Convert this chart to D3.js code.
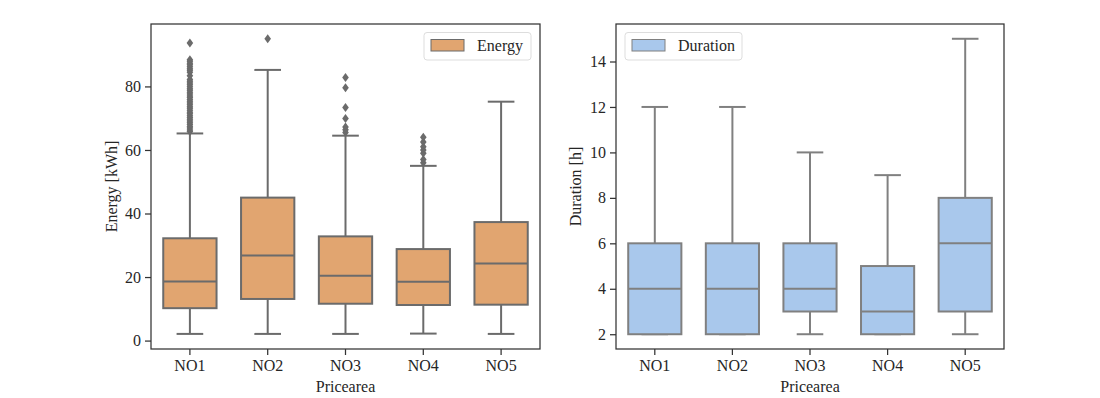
<!DOCTYPE html>
<html><head><meta charset="utf-8">
<script src="https://cdn.jsdelivr.net/npm/d3@7"></script>
<style>body{margin:0;background:#fff}svg{display:block;font-family:"Liberation Serif","Times New Roman",serif}</style>
</head><body><svg id="c" width="1100" height="398"></svg>
<script>
const categories = ["NO1","NO2","NO3","NO4","NO5"];
// Energy [kWh]
const energyLow    = [2.1, 2.1, 2.1, 2.2, 2.1];
const energyQ1     = [10.2, 13.1, 11.6, 11.2, 11.3];
const energyMedian = [18.6, 26.8, 20.4, 18.5, 24.3];
const energyQ3     = [32.2, 45.0, 32.8, 28.8, 37.3];
const energyHigh   = [65.2, 85.2, 64.5, 55.0, 75.2];
const energyOutliers = [
  [65.8,66.3,66.9,67.4,68.0,68.6,69.1,69.7,70.2,70.8,71.4,71.9,72.5,73.1,73.6,74.2,74.8,75.3,75.9,76.5,77.0,77.6,78.2,78.8,79.3,79.9,80.5,81.1,81.6,82.2,83.4,84.5,85.1,85.6,86.2,86.8,87.3,87.9,88.4,93.7],
  [95.0],
  [65.5,66.4,67.2,69.9,73.4,79.6,82.8],
  [56.0,57.0,59.0,60.0,61.0,62.5,64.0],
  []
];
const energyTicks = [0,20,40,60,80];
// Duration [h]
const durLow    = [2, 2, 2, 2, 2];
const durQ1     = [2, 2, 3, 2, 3];
const durMedian = [4, 4, 4, 3, 6];
const durQ3     = [6, 6, 6, 5, 8];
const durHigh   = [12, 12, 10, 9, 15];
const durOutliers = [[],[],[],[],[]];
const durTicks = [2,4,6,8,10,12,14];

const svg = d3.select("#c");
const plotTop = 24, plotBottom = 349;

function panel(o){
  const g = svg.append("g");
  const x = d3.scaleBand().domain(categories).range([o.x0, o.x1]).padding(0);
  const y = d3.scaleLinear().domain(o.domain).range([plotBottom, plotTop]);
  const bw = x.bandwidth()*0.685;
  categories.forEach((c,i)=>{
    const cx = x(c) + x.bandwidth()/2;
    g.append("line").attr("x1",cx).attr("x2",cx).attr("y1",y(o.q3[i])).attr("y2",y(o.high[i])).attr("stroke",o.line).attr("stroke-width",2);
    g.append("line").attr("x1",cx).attr("x2",cx).attr("y1",y(o.q1[i])).attr("y2",y(o.low[i])).attr("stroke",o.line).attr("stroke-width",2);
    g.append("line").attr("x1",cx-bw/4).attr("x2",cx+bw/4).attr("y1",y(o.high[i])).attr("y2",y(o.high[i])).attr("stroke",o.line).attr("stroke-width",2);
    g.append("line").attr("x1",cx-bw/4).attr("x2",cx+bw/4).attr("y1",y(o.low[i])).attr("y2",y(o.low[i])).attr("stroke",o.line).attr("stroke-width",2);
    g.append("rect").attr("x",cx-bw/2).attr("width",bw).attr("y",y(o.q3[i])).attr("height",y(o.q1[i])-y(o.q3[i]))
      .attr("fill",o.fill).attr("stroke",o.line).attr("stroke-width",2);
    g.append("line").attr("x1",cx-bw/2).attr("x2",cx+bw/2).attr("y1",y(o.med[i])).attr("y2",y(o.med[i])).attr("stroke",o.line).attr("stroke-width",2);
    o.out[i].forEach(v=>{
      const yy = y(v);
      g.append("path").attr("d",`M${cx},${yy-4.5}L${cx+3.3},${yy}L${cx},${yy+4.5}L${cx-3.3},${yy}Z`).attr("fill",o.line);
    });
  });
  g.append("rect").attr("x",o.x0).attr("y",plotTop).attr("width",o.x1-o.x0).attr("height",plotBottom-plotTop)
    .attr("fill","none").attr("stroke","#333").attr("stroke-width",1.25);
  const ya = d3.axisLeft(y).tickValues(o.ticks).tickSize(6).tickPadding(4).tickFormat(d3.format("d"));
  const ga = g.append("g").attr("transform",`translate(${o.x0},0)`).call(ya);
  const xa = d3.axisBottom(x).tickSize(6).tickPadding(5);
  const gx = g.append("g").attr("transform",`translate(0,${plotBottom})`).call(xa);
  [ga,gx].forEach(a=>{
    a.select(".domain").remove();
    a.selectAll("line").attr("stroke","#333").attr("stroke-width",1.25);
    a.selectAll("text").attr("font-family","Liberation Serif").attr("font-size",16).attr("fill","#262626");
  });
  g.append("text").attr("x",(o.x0+o.x1)/2).attr("y",392).attr("text-anchor","middle")
    .attr("font-size",16).attr("fill","#262626").text("Pricearea");
  g.append("text").attr("transform",`translate(${o.ylx},${(plotTop+plotBottom)/2}) rotate(-90)`).attr("text-anchor","middle")
    .attr("dy","0.35em").attr("font-size",16).attr("fill","#262626").text(o.ylabel);
  const lg = g.append("g").attr("transform",`translate(${o.lx},32.5)`);
  lg.append("rect").attr("width",o.lw).attr("height",27.5).attr("rx",3).attr("fill","#fff").attr("fill-opacity",0.8).attr("stroke","#ddd");
  lg.append("rect").attr("x",7).attr("y",7).attr("width",33).attr("height",11.5).attr("fill",o.fill).attr("stroke",o.line).attr("stroke-width",1);
  lg.append("text").attr("x",53).attr("y",18.5).attr("font-size",16).attr("fill","#262626").text(o.legend);
}

panel({x0:151,x1:540,domain:[-2.65,99.65],ticks:energyTicks,low:energyLow,q1:energyQ1,med:energyMedian,q3:energyQ3,high:energyHigh,out:energyOutliers,
  fill:"#e1a570",line:"#6b6b6b",ylabel:"Energy [kWh]",ylx:111,legend:"Energy",lx:424,lw:107});
panel({x0:616,x1:1004,domain:[1.35,15.65],ticks:durTicks,low:durLow,q1:durQ1,med:durMedian,q3:durQ3,high:durHigh,out:durOutliers,
  fill:"#a9c8ec",line:"#808080",ylabel:"Duration [h]",ylx:575,legend:"Duration",lx:625,lw:117});
</script></body></html>
